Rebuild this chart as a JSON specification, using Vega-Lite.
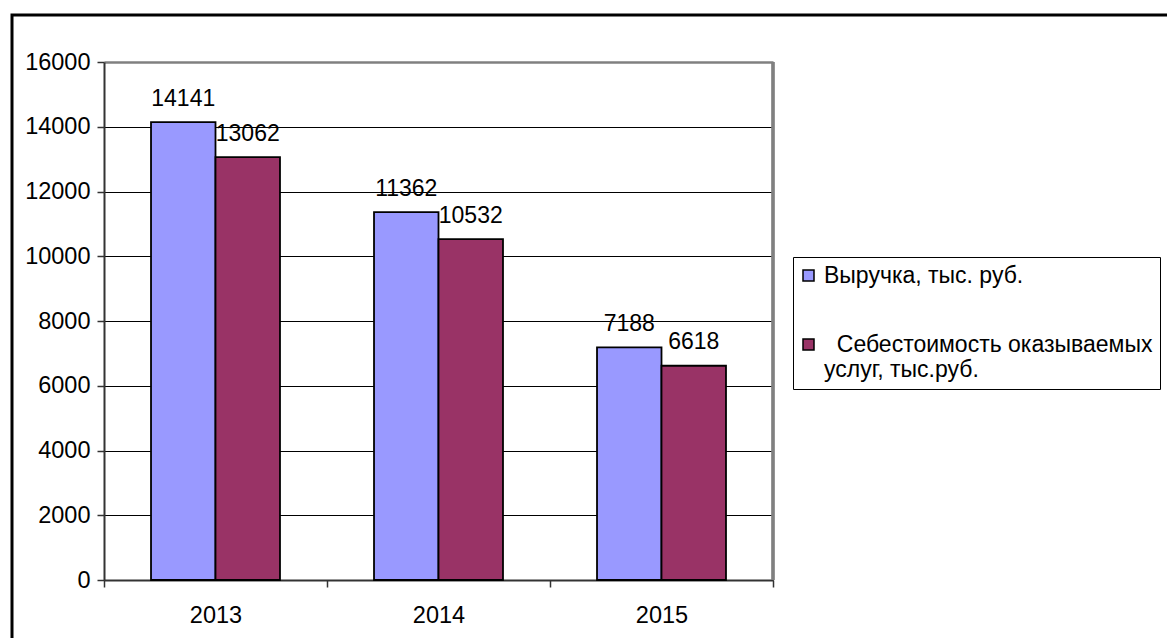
{
  "$schema": "https://vega.github.io/schema/vega-lite/v6.json",
  "autosize": {"type": "none"},
  "width": 1157,
  "height": 625,
  "padding": {"left": 12, "top": 15, "right": 0, "bottom": 0},
  "background": "white",
  "config": {
    "view": {"stroke": "black", "strokeWidth": 3, "fill": "white"},
    "font": "Liberation Sans",
    "axis": {"labelFont": "Liberation Sans", "labelColor": "black"},
    "legend": {"labelFont": "Liberation Sans"}
  },
  "data": {"values": [
    {"year": "2013", "series": "Выручка, тыс. руб.", "value": 14141},
    {"year": "2013", "series": "Себестоимость оказываемых услуг, тыс.руб.", "value": 13062},
    {"year": "2014", "series": "Выручка, тыс. руб.", "value": 11362},
    {"year": "2014", "series": "Себестоимость оказываемых услуг, тыс.руб.", "value": 10532},
    {"year": "2015", "series": "Выручка, тыс. руб.", "value": 7188},
    {"year": "2015", "series": "Себестоимость оказываемых услуг, тыс.руб.", "value": 6618}
  ]},
  "layer": [
    {
      "mark": {"type": "bar", "stroke": "black", "strokeWidth": 1.8},
      "encoding": {
        "x": {"field": "year", "type": "nominal",
          "scale": {"range": [92, 761], "paddingInner": 0, "paddingOuter": 0},
          "axis": {"title": null, "offset": -60, "tickBand": "extent", "labelAngle": 0, "domainColor": "#333333", "domainWidth": 2, "tickColor": "#333333", "tickWidth": 1.5, "tickSize": 7, "labelPadding": 16, "labelFontSize": 23.5, "grid": false}},
        "xOffset": {"field": "series", "type": "nominal", "sort": ["Выручка, тыс. руб.", "Себестоимость оказываемых услуг, тыс.руб."],
          "scale": {"paddingOuter": 0.729, "paddingInner": 0}},
        "y": {"field": "value", "type": "quantitative",
          "scale": {"domain": [0, 16000], "range": [565, 47], "nice": false, "zero": true},
          "axis": {"title": null, "offset": -92, "values": [0, 2000, 4000, 6000, 8000, 10000, 12000, 14000, 16000], "format": "d",
            "domainColor": "#333333", "domainWidth": 2, "tickColor": "#333333", "tickWidth": 1.5, "tickSize": 7, "labelPadding": 7, "labelFontSize": 23.5,
            "grid": true, "gridOpacity": 1,
            "gridColor": {"condition": {"test": "datum.value === 16000", "value": "#808080"}, "value": "#000000"},
            "gridWidth": {"condition": {"test": "datum.value === 16000", "value": 2.5}, "value": 1.2}}},
        "color": {"field": "series", "type": "nominal", "sort": ["Выручка, тыс. руб.", "Себестоимость оказываемых услуг, тыс.руб."],
          "scale": {"domain": ["Выручка, тыс. руб.", "Себестоимость оказываемых услуг, тыс.руб."], "range": ["#9999FF", "#993366"]},
          "legend": {"orient": "none", "legendX": 781, "legendY": 242, "title": null, "symbolType": "square", "symbolSize": 121,
            "symbolStrokeColor": "black", "symbolStrokeWidth": 1.5, "symbolOffset": -3, "labelFontSize": 23, "labelColor": "black", "labelLimit": 600,
            "labelOffset": 4, "labelBaseline": "middle", "padding": 7, "rowPadding": 45, "strokeColor": "black",
            "labelExpr": "datum.label == 'Выручка, тыс. руб.' ? datum.label : ['\u200b\u00a0\u00a0Себестоимость оказываемых', 'услуг, тыс.руб.']"}}
      }
    },
    {
      "mark": {"type": "text", "baseline": "alphabetic", "dy": -16.5, "fontSize": 23, "font": "Liberation Sans", "color": "black"},
      "encoding": {
        "x": {"field": "year", "type": "nominal"},
        "xOffset": {"field": "series", "type": "nominal", "sort": ["Выручка, тыс. руб.", "Себестоимость оказываемых услуг, тыс.руб."]},
        "y": {"field": "value", "type": "quantitative"},
        "text": {"field": "value", "type": "quantitative", "format": "d"}
      }
    },
    {
      "mark": {"type": "rule", "color": "#808080", "strokeWidth": 2.5},
      "encoding": {
        "x": {"datum": "2015", "type": "nominal", "bandPosition": 1},
        "y": {"datum": 0, "type": "quantitative"},
        "y2": {"datum": 16000}
      }
    }
  ]
}
